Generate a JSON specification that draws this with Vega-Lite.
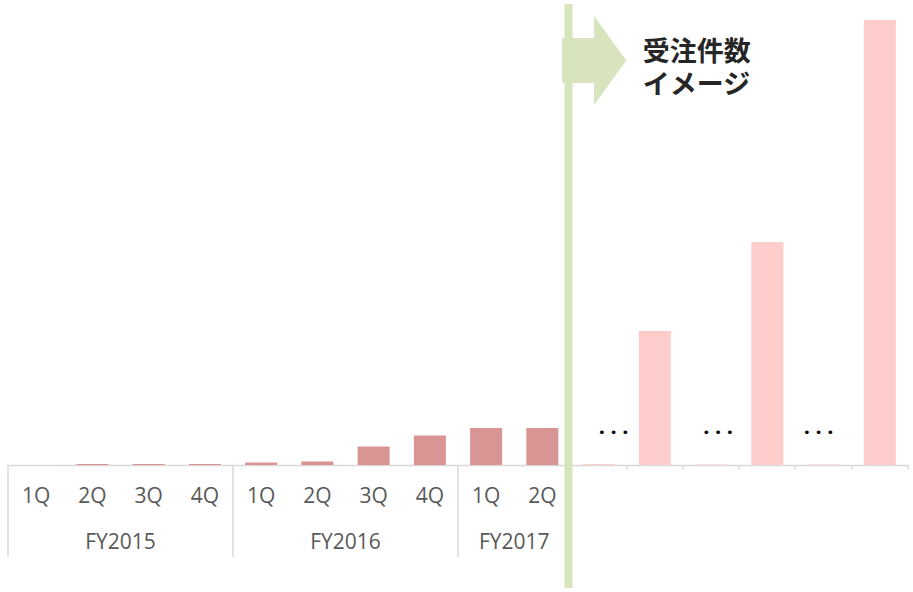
{
  "$schema": "https://vega.github.io/schema/vega-lite/v6.json",
  "width": 900,
  "height": 465,
  "autosize": {"type": "none"},
  "padding": {"left": 8, "top": 0, "right": 5, "bottom": 127},
  "background": "white",
  "config": {"view": {"stroke": null}},
  "datasets": {
    "bars": [
      {"id": "1", "q": "1Q", "fy": "FY2015", "v": 0, "kind": "actual"},
      {"id": "2", "q": "2Q", "fy": "FY2015", "v": 1, "kind": "actual"},
      {"id": "3", "q": "3Q", "fy": "FY2015", "v": 1, "kind": "actual"},
      {"id": "4", "q": "4Q", "fy": "FY2015", "v": 1, "kind": "actual"},
      {"id": "5", "q": "1Q", "fy": "FY2016", "v": 2.5, "kind": "actual"},
      {"id": "6", "q": "2Q", "fy": "FY2016", "v": 3.5, "kind": "actual"},
      {"id": "7", "q": "3Q", "fy": "FY2016", "v": 18.5, "kind": "actual"},
      {"id": "8", "q": "4Q", "fy": "FY2016", "v": 29.5, "kind": "actual"},
      {"id": "9", "q": "1Q", "fy": "FY2017", "v": 37, "kind": "actual"},
      {"id": "10", "q": "2Q", "fy": "FY2017", "v": 37, "kind": "actual"},
      {"id": "11", "q": "", "fy": "", "v": 1, "kind": "future"},
      {"id": "12", "q": "", "fy": "", "v": 134, "kind": "future"},
      {"id": "13", "q": "", "fy": "", "v": 0.5, "kind": "future"},
      {"id": "14", "q": "", "fy": "", "v": 223, "kind": "future"},
      {"id": "15", "q": "", "fy": "", "v": 0.5, "kind": "future"},
      {"id": "16", "q": "", "fy": "", "v": 445, "kind": "future"}
    ],
    "fy": [
      {"id": "3", "label": "FY2015"},
      {"id": "7", "label": "FY2016"},
      {"id": "10", "label": "FY2017"}
    ],
    "seps": [{"id": "1"}, {"id": "5"}, {"id": "9"}],
    "ticks": [{"id": "12"}, {"id": "13"}, {"id": "14"}, {"id": "15"}, {"id": "16"}],
    "title": [{"id": "12", "label": "受注件数\nイメージ"}]
  },
  "layer": [
    {
      "data": {"name": "bars"},
      "mark": {"type": "bar", "width": {"band": 0.57}},
      "encoding": {
        "x": {
          "field": "id", "type": "nominal", "sort": null,
          "scale": {"domain": ["1","2","3","4","5","6","7","8","9","10","11","12","13","14","15","16"], "paddingInner": 0, "paddingOuter": 0},
          "axis": {"labels": false, "ticks": false, "title": null, "domainColor": "#D9D9D9", "domainWidth": 1.5, "grid": false}
        },
        "y": {
          "field": "v", "type": "quantitative",
          "scale": {"domain": [0, 465], "nice": false, "zero": true},
          "axis": null
        },
        "color": {
          "field": "kind", "type": "nominal",
          "scale": {"domain": ["actual", "future"], "range": ["#D99594", "#FFCCCC"]},
          "legend": null
        }
      }
    },
    {
      "data": {"name": "bars"},
      "transform": [{"filter": "datum.q != ''"}],
      "mark": {"type": "text", "font": "Open Sans", "fontSize": 21, "color": "#595959", "baseline": "alphabetic", "align": "center"},
      "encoding": {
        "x": {"field": "id", "type": "nominal"},
        "y": {"datum": -38},
        "text": {"field": "q"}
      }
    },
    {
      "data": {"name": "fy"},
      "mark": {"type": "text", "font": "Open Sans", "fontSize": 21, "color": "#595959", "baseline": "alphabetic", "align": "center"},
      "encoding": {
        "x": {"field": "id", "type": "nominal", "bandPosition": 0},
        "y": {"datum": -84},
        "text": {"field": "label"}
      }
    },
    {
      "data": {"name": "seps"},
      "mark": {"type": "rule", "color": "#D9D9D9", "strokeWidth": 1.5},
      "encoding": {
        "x": {"field": "id", "type": "nominal", "bandPosition": 0},
        "y": {"datum": 0},
        "y2": {"datum": -92}
      }
    },
    {
      "data": {"name": "ticks"},
      "mark": {"type": "rule", "color": "#D9D9D9", "strokeWidth": 1.5},
      "encoding": {
        "x": {"field": "id", "type": "nominal", "bandPosition": 0},
        "y": {"datum": 0},
        "y2": {"datum": -4}
      }
    },
    {
      "data": {"name": "ticks"},
      "transform": [{"filter": "datum.id == '16'"}],
      "mark": {"type": "rule", "color": "#D9D9D9", "strokeWidth": 1.5},
      "encoding": {
        "x": {"field": "id", "type": "nominal", "bandPosition": 1},
        "y": {"datum": 0},
        "y2": {"datum": -4}
      }
    },
    {
      "data": {"name": "bars"},
      "transform": [{"filter": "datum.id == '11'"}],
      "mark": {
        "type": "point", "filled": true, "color": "#D7E4BD", "opacity": 1, "strokeWidth": 0, "xOffset": -4.5,
        "shape": "M -0.72 -0.506 L 0 -0.506 L 0 -1 L 0.72 0 L 0 1 L 0 0.506 L -0.72 0.506 Z",
        "size": 7921
      },
      "encoding": {
        "x": {"field": "id", "type": "nominal"},
        "y": {"datum": 404.5}
      }
    },
    {
      "data": {"name": "bars"},
      "transform": [{"filter": "datum.id == '11'"}],
      "mark": {"type": "rule", "color": "#D7E4BD", "strokeWidth": 8, "xOffset": -2},
      "encoding": {
        "x": {"field": "id", "type": "nominal", "bandPosition": 0},
        "y": {"datum": 461},
        "y2": {"datum": -123}
      }
    },
    {
      "data": {"name": "title"},
      "mark": {"type": "text", "font": "Noto Sans CJK JP", "fontWeight": "bold", "fontSize": 27, "lineHeight": 33, "lineBreak": "\n", "color": "#262626", "align": "left", "baseline": "top", "dx": 16},
      "encoding": {
        "x": {"field": "id", "type": "nominal", "bandPosition": 0},
        "y": {"datum": 425.5},
        "text": {"field": "label"}
      }
    },
    {
      "data": {"name": "bars"},
      "transform": [{"filter": "datum.id == '11'"}],
      "mark": {"type": "text", "text": "• • •", "font": "DejaVu Sans", "fontSize": 13, "color": "#000000", "align": "center", "baseline": "middle", "dx": 15},
      "encoding": {"x": {"field": "id", "type": "nominal"}, "y": {"datum": 32}}
    },
    {
      "data": {"name": "bars"},
      "transform": [{"filter": "datum.id == '13'"}],
      "mark": {"type": "text", "text": "• • •", "font": "DejaVu Sans", "fontSize": 13, "color": "#000000", "align": "center", "baseline": "middle", "dx": 7},
      "encoding": {"x": {"field": "id", "type": "nominal"}, "y": {"datum": 32}}
    },
    {
      "data": {"name": "bars"},
      "transform": [{"filter": "datum.id == '15'"}],
      "mark": {"type": "text", "text": "• • •", "font": "DejaVu Sans", "fontSize": 13, "color": "#000000", "align": "center", "baseline": "middle", "dx": -5},
      "encoding": {"x": {"field": "id", "type": "nominal"}, "y": {"datum": 32}}
    }
  ]
}
